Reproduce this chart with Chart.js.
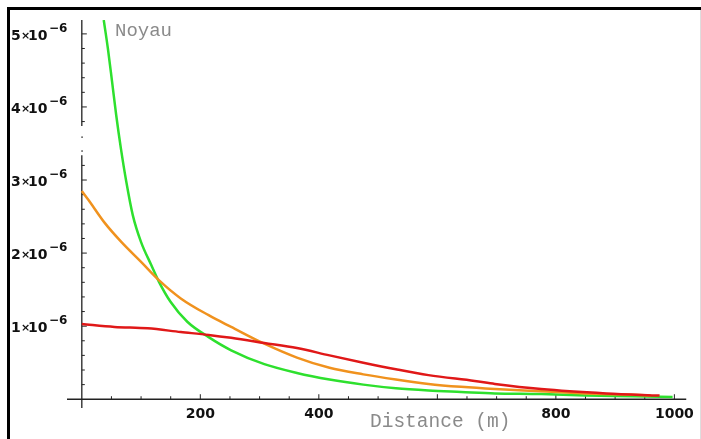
<!DOCTYPE html>
<html><head><meta charset="utf-8">
<script src="https://cdn.jsdelivr.net/npm/chart.js@4/dist/chart.umd.min.js"></script>
<style>html,body{margin:0;padding:0;background:#fff}#wrap{position:relative;width:701px;height:439px}</style>
</head><body><div id="wrap"><canvas id="c" width="701" height="439"></canvas></div>
<script>
// values in units of 10^-6
const greenDist = [37,44,51,58,66,75,86,100,117,130,150,178,214,252,308,363,418,475,530,585,640,697,775,850,930,997];
const greenVal  = [5.19,4.80,4.35,3.89,3.43,2.98,2.52,2.15,1.84,1.61,1.33,1.06,0.85,0.67,0.48,0.36,0.27,0.20,0.15,0.12,0.10,0.08,0.07,0.05,0.04,0.03];
const orangeDist = [0,11,39,67,100,130,167,214,252,308,363,418,475,530,585,640,697,775,850,930,960];
const orangeVal  = [2.85,2.73,2.41,2.15,1.88,1.63,1.38,1.15,0.99,0.76,0.57,0.43,0.34,0.27,0.21,0.17,0.14,0.11,0.08,0.06,0.05];
const redDist = [0,55,111,167,214,252,308,363,418,475,530,585,663,697,775,885,975];
const redVal  = [1.03,0.99,0.97,0.92,0.88,0.84,0.77,0.70,0.60,0.50,0.41,0.33,0.25,0.21,0.14,0.08,0.05];
const xTickLabels = [200,400,800,1000];
const yTickValues = [1,2,3,4,5];
const yTickMantissa = ['1','2','3','4','5'];
const yTickExponent = '−6';
const annotationText = 'Noyau';
const xAxisTitle = 'Distance (m)';

const pts = (d,v) => d.map((x,i)=>({x:x,y:v[i]}));

const decor = {
  id:'decor',
  beforeDraw(chart){
    const ctx = chart.ctx;
    ctx.save();
    ctx.fillStyle = '#fff'; ctx.fillRect(0,0,chart.width,chart.height);
    ctx.fillStyle = '#000';
    ctx.fillRect(7,7,3,432);
    ctx.fillRect(7,7,694,3);
    ctx.fillStyle = '#ddd'; ctx.fillRect(700,10,1,429);
    ctx.restore();
  },
  beforeDatasetsDraw(chart){
    const ctx = chart.ctx, xs = chart.scales.x, ys = chart.scales.y, ca = chart.chartArea;
    const x0 = xs.getPixelForValue(0), y0 = ys.getPixelForValue(0);
    ctx.save();
    ctx.strokeStyle = '#222'; ctx.lineWidth = 1.3;
    ctx.beginPath(); ctx.moveTo(ca.left, y0); ctx.lineTo(ca.right, y0); ctx.stroke();
    ctx.beginPath();
    ctx.moveTo(x0, ca.bottom); ctx.lineTo(x0, ys.getPixelForValue(3.34));
    ctx.moveTo(x0, ys.getPixelForValue(3.74)); ctx.lineTo(x0, ca.top);
    ctx.stroke();
    ctx.fillStyle = '#444';
    [3.59,3.40].forEach(v=>{ ctx.fillRect(x0-0.5, ys.getPixelForValue(v)-0.5, 1.5, 1.5); });
    ctx.lineWidth = 1;
    for (let v = 50; v <= 1000; v += 50) {
      const px = xs.getPixelForValue(v), len = (v % 200 === 0) ? 5 : 3;
      ctx.beginPath(); ctx.moveTo(px, y0); ctx.lineTo(px, y0 - len); ctx.stroke();
    }
    for (let k = 1; k <= 25; k++) {
      const v = k * 0.2;
      if (v > 3.36 && v < 3.72) continue;
      const py = ys.getPixelForValue(v), len = (k % 5 === 0) ? 5 : 3;
      ctx.beginPath(); ctx.moveTo(x0, py); ctx.lineTo(x0 + len, py); ctx.stroke();
    }
    ctx.fillStyle = '#111'; ctx.textBaseline = 'alphabetic'; ctx.textAlign = 'left';
    yTickValues.forEach((v,i)=>{
      const py = ys.getPixelForValue(v);
      ctx.font = 'bold 14px "DejaVu Sans"';
      ctx.fillText(yTickMantissa[i], 11, py + 6);
      ctx.font = 'bold 11px "DejaVu Sans"';
      ctx.fillText('×', 21, py + 5);
      ctx.font = 'bold 14px "DejaVu Sans"';
      ctx.fillText('10', 28, py + 6);
      ctx.font = 'bold 12px "DejaVu Sans"';
      ctx.fillText(yTickExponent, 49, py - 2);
    });
    ctx.fillStyle = '#8a8a8a';
    ctx.font = '19px "Liberation Mono"';
    ctx.fillText(annotationText, 115, 36);
    ctx.font = '19.5px "Liberation Mono"';
    ctx.fillText(xAxisTitle, 370, 427);
    ctx.restore();
  }
};

new Chart(document.getElementById('c'), {
  type:'line',
  data:{ datasets:[
    {data:pts(redDist,redVal), borderColor:'#e01818'},
    {data:pts(orangeDist,orangeVal), borderColor:'#f0921e'},
    {data:pts(greenDist,greenVal), borderColor:'#2ee02e'}
  ]},
  options:{
    responsive:false, animation:false, devicePixelRatio:1,
    layout:{padding:{left:67,right:7,top:20,bottom:31}},
    plugins:{legend:{display:false}, tooltip:{enabled:false}},
    elements:{point:{radius:0}, line:{borderWidth:2.5, cubicInterpolationMode:'monotone', fill:false}},
    scales:{
      x:{type:'linear', min:-25, max:1020, position:{y:0},
         afterFit:s=>{s.height=0;},
         grid:{display:false, drawTicks:false}, border:{display:false},
         ticks:{stepSize:200, includeBounds:false, padding:7, autoSkip:false, maxRotation:0, color:'#111',
                font:{family:'DejaVu Sans', weight:'bold', size:14},
                callback:v=> xTickLabels.includes(v) ? String(v) : ''}},
      y:{type:'linear', min:-0.12, max:5.19, position:{x:0},
         afterFit:s=>{s.width=0;},
         grid:{display:false, drawTicks:false}, border:{display:false},
         ticks:{display:false}}
    }
  },
  plugins:[decor]
});
</script></body></html>
